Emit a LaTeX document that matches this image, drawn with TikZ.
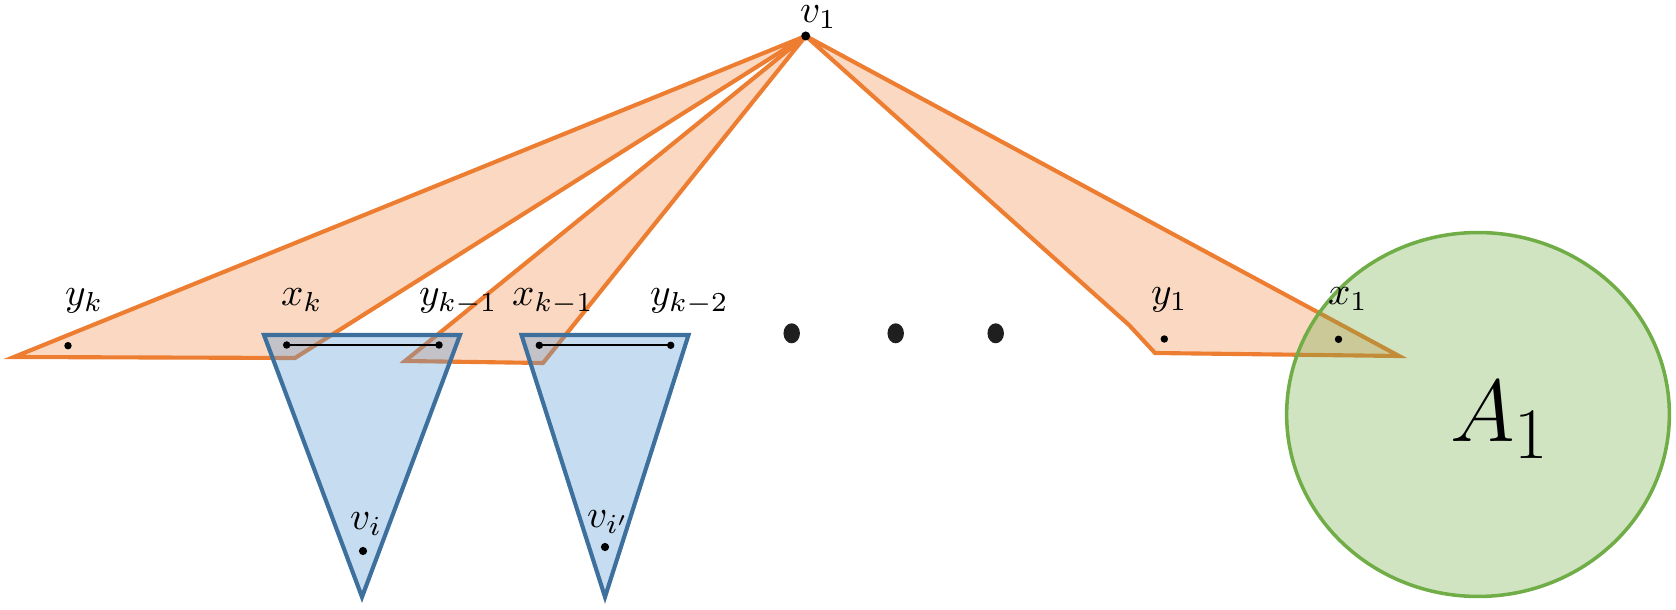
\RequirePackage{fix-cm}
\documentclass[tikz,border=0pt]{standalone}
\usetikzlibrary{shapes.geometric}
\DeclareMathSizes{22.4}{22.4}{18.5}{14}
\definecolor{orangeE}{RGB}{237,125,49}
\definecolor{blueE}{RGB}{62,112,158}
\definecolor{blueF}{RGB}{91,155,213}
\definecolor{greenE}{RGB}{112,173,71}
\begin{document}
\begin{tikzpicture}[x=0.255pt,y=-0.255pt,
  orangeshape/.style={draw=orangeE,line width=1.05pt,fill=orangeE,fill opacity=0.3,miter limit=6},
  blueshape/.style={draw=blueE,line width=1.05pt,fill=blueF,fill opacity=0.35,miter limit=6},
  greenshape/.style={draw=greenE,line width=0.9pt,fill=greenE,fill opacity=0.33},
  vdot/.style={circle,fill=black,inner sep=0pt,minimum size=1.9pt},
  bigdot/.style={ellipse,fill=black!88,inner sep=0pt,minimum width=4.2pt,minimum height=5.1pt},
  seg/.style={draw=black,line width=0.45pt},
  lab/.style={inner sep=0pt,outer sep=0pt,anchor=base west}]
\useasboundingbox (0,0) rectangle (1676,610);
% coordinates
\coordinate (cv1) at (805.7,36);
\coordinate (t1a) at (14,357);
\coordinate (t1b) at (295,358);
\coordinate (t2a) at (405,361);
\coordinate (t2b) at (543,363);
\coordinate (t3p) at (1129,325);
\coordinate (t3q) at (1155,353);
\coordinate (t3r) at (1399,356);
\coordinate (b1a) at (264,335);
\coordinate (b1b) at (460,335);
\coordinate (b1c) at (362,597);
\coordinate (b2a) at (521.5,335);
\coordinate (b2b) at (688.5,335);
\coordinate (b2c) at (605,597);
% orange shapes
\filldraw[orangeshape] (cv1) -- (t1a) -- (t1b) -- cycle;
\filldraw[orangeshape] (cv1) -- (t2a) -- (t2b) -- cycle;
\filldraw[orangeshape] (cv1) -- (t3p) -- (t3q) -- (t3r) -- cycle;
% blue shapes
\filldraw[blueshape] (b1a) -- (b1b) -- (b1c) -- cycle;
\filldraw[blueshape] (b2a) -- (b2b) -- (b2c) -- cycle;
% green set
\filldraw[greenshape] (1478,414.5) ellipse [x radius=48.8pt,y radius=46.4pt];
% dots
\node[vdot,minimum size=2.3pt] (v1) at (cv1) {};
\node[vdot] (yk) at (68,345.7) {};
\node[vdot] (xk) at (286.7,345) {};
\node[vdot] (ykm1) at (439,345) {};
\node[vdot] (xkm1) at (539.3,345.3) {};
\node[vdot] (ykm2) at (670.7,345.3) {};
\node[vdot] (y1) at (1164.3,339) {};
\node[vdot] (x1) at (1338.5,339.3) {};
\node[vdot,minimum size=2.1pt] (vi) at (363,551) {};
\node[vdot,minimum size=2.1pt] (vip) at (605,547) {};
\draw[seg] (xk.center) -- (ykm1.center);
\draw[seg] (xkm1.center) -- (ykm2.center);
\node[bigdot] (d1) at (791.7,333.3) {};
\node[bigdot] (d2) at (895.7,333.3) {};
\node[bigdot] (d3) at (995.7,333.3) {};
% labels
\node[lab] (lv1) at (800,23) {$v_1$};
\node[lab] (lyk) at (65,306) {$y_k$};
\node[lab] (lxk) at (281,306) {$x_k$};
\node[lab] (lykm1) at (419,306) {$y_{k-1}$};
\node[lab] (lxkm1) at (512,306) {$x_{k-1}$};
\node[lab] (lykm2) at (650,306) {$y_{k-2}$};
\node[lab] (ly1) at (1151,305) {$y_1$};
\node[lab] (lx1) at (1328,305) {$x_1$};
\node[lab] (lvi) at (350,530) {$v_i$};
\node[lab] (lvip) at (587,528) {$v_{i'}$};
\node[lab] (lA1) at (1450,441.7) {\fontsize{22.4}{27}\selectfont$A_1$};
\end{tikzpicture}
\end{document}
